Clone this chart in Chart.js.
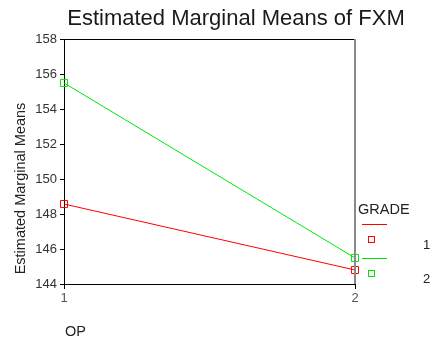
<!DOCTYPE html>
<html>
<head>
<meta charset="utf-8">
<script src="https://cdn.jsdelivr.net/npm/chart.js@4/dist/chart.umd.min.js"></script>
<style>
  html, body { margin: 0; padding: 0; background: #fff; }
  #wrap { width: 432px; height: 345px; }
</style>
</head>
<body>
<div id="wrap"><canvas id="chart" width="432" height="345"></canvas></div>
<script>
// Estimated marginal means of FXM by OP level, one line per GRADE
const opLevels = [1, 2];
const gradeLevels = ['1', '2'];
const grade1Means = [148.57, 144.80];
const grade2Means = [155.49, 145.49];
const yTickValues = [144, 146, 148, 150, 152, 154, 156, 158];

const seriesColors = ['#ff0000', '#00e600'];
const FONT = '"Liberation Sans", Arial, sans-serif';

const toPoints = (vals) => opLevels.map((x, i) => ({ x: x, y: vals[i] }));

// Title, axis titles, frame and GRADE legend
const annotations = {
  id: 'annotations',
  afterDraw(chart) {
    const ctx = chart.ctx;
    const a = chart.chartArea;
    ctx.save();

    // frame: top edge black, right edge grey
    ctx.lineWidth = 1;
    ctx.strokeStyle = '#000';
    ctx.beginPath();
    ctx.moveTo(a.left, a.top + 0.5);
    ctx.lineTo(a.right, a.top + 0.5);
    ctx.stroke();
    ctx.strokeStyle = '#8a8a8a';
    ctx.lineWidth = 2;
    ctx.beginPath();
    ctx.moveTo(a.right, a.top);
    ctx.lineTo(a.right, a.bottom);
    ctx.stroke();

    // title
    ctx.fillStyle = '#1a1a1a';
    ctx.font = '22px ' + FONT;
    ctx.textAlign = 'center';
    ctx.textBaseline = 'alphabetic';
    ctx.fillText('Estimated Marginal Means of FXM', 236, 25);

    // axis titles
    ctx.font = '14.5px ' + FONT;
    ctx.fillStyle = '#222';
    ctx.save();
    ctx.translate(25, 188.5);
    ctx.rotate(-Math.PI / 2);
    ctx.textAlign = 'center';
    ctx.fillText('Estimated Marginal Means', 0, 0);
    ctx.restore();
    ctx.textAlign = 'left';
    ctx.fillText('OP', 65, 336);

    // legend
    ctx.fillText('GRADE', 358, 214);
    const rows = [224, 258];
    chart.data.datasets.forEach((ds, i) => {
      const y = rows[i];
      ctx.strokeStyle = ds.borderColor;
      ctx.lineWidth = 1;
      ctx.beginPath();
      ctx.moveTo(362, y + 0.5);
      ctx.lineTo(387, y + 0.5);
      ctx.stroke();
      ctx.strokeRect(368.5, y + 12.5, 6, 6);
      ctx.fillStyle = '#222';
      ctx.textAlign = 'left';
      ctx.font = '13px ' + FONT;
      ctx.fillText(ds.label, 423, y + 25);
    });
    ctx.restore();
  }
};

new Chart(document.getElementById('chart'), {
  type: 'line',
  data: {
    datasets: [
      { label: gradeLevels[0], data: toPoints(grade1Means), borderColor: seriesColors[0] },
      { label: gradeLevels[1], data: toPoints(grade2Means), borderColor: seriesColors[1] }
    ].map(ds => Object.assign(ds, {
      borderWidth: 1,
      pointStyle: 'rect',
      pointRadius: 5,
      pointBorderWidth: 1,
      pointBackgroundColor: 'rgba(0,0,0,0)',
      pointBorderColor: ds.borderColor,
      tension: 0,
      clip: false
    }))
  },
  options: {
    responsive: false,
    animation: false,
    events: [],
    layout: { padding: { top: 39, right: 77, bottom: 0, left: 0 } },
    plugins: { legend: { display: false }, title: { display: false }, tooltip: { enabled: false } },
    scales: {
      x: {
        type: 'linear',
        min: 1,
        max: 2,
        afterFit(scale) { scale.height = 61; },
        afterBuildTicks(scale) { scale.ticks = opLevels.map(v => ({ value: v })); },
        grid: { drawOnChartArea: false, drawTicks: true, tickLength: 5, color: '#000' },
        border: { color: '#000', width: 1 },
        ticks: { color: '#555', font: { family: FONT, size: 13 }, padding: 2 }
      },
      y: {
        min: 144,
        max: 158,
        afterFit(scale) { scale.width = 64; },
        afterBuildTicks(scale) { scale.ticks = yTickValues.map(v => ({ value: v })); },
        grid: { drawOnChartArea: false, drawTicks: true, tickLength: 4, color: '#000' },
        border: { color: '#000', width: 1 },
        ticks: { color: '#333', font: { family: FONT, size: 13 }, padding: 3 }
      }
    }
  },
  plugins: [annotations]
});
</script>
</body>
</html>
